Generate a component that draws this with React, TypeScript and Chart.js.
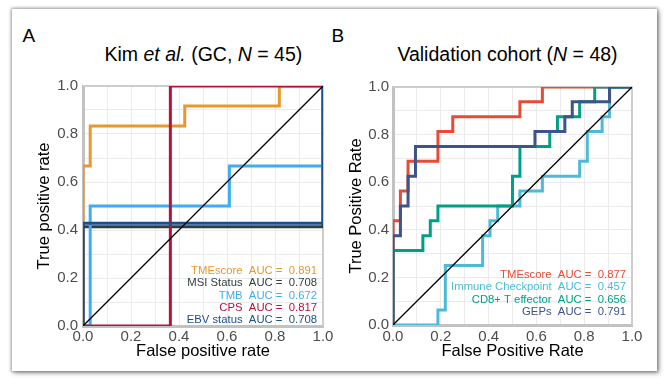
import React, { useEffect, useRef } from 'react';
import { Chart, registerables } from 'chart.js';

Chart.register(...registerables);

const FONT = "'Liberation Sans', Arial, Helvetica, sans-serif";

// ---------- Panel A: Kim et al. (GC, N = 45) ----------
const A_TME_FPR = [0, 0, 0.03, 0.03, 0.424, 0.424, 0.818, 0.818, 1];
const A_TME_TPR = [0, 0.667, 0.667, 0.833, 0.833, 0.917, 0.917, 1, 1];
const A_MSI_FPR = [0, 0, 1, 1];
const A_MSI_TPR = [0, 0.414, 0.414, 1];
const A_TMB_FPR = [0, 0.03, 0.03, 0.61, 0.61, 1, 1];
const A_TMB_TPR = [0, 0, 0.5, 0.5, 0.667, 0.667, 1];
const A_CPS_FPR = [0, 0.364, 0.364, 1];
const A_CPS_TPR = [0, 0, 1, 1];
const A_EBV_FPR = [0, 0, 1, 1];
const A_EBV_TPR = [0, 0.428, 0.428, 1];

const A_LABELS = ['TMEscore', 'MSI Status', 'TMB', 'CPS', 'EBV status'];
const A_AUC = ['0.891', '0.708', '0.672', '0.817', '0.708'];
const A_COLORS = ['#E8992C', '#2E3F3F', '#3DAEF2', '#B5123C', '#1B4F8A'];

// ---------- Panel B: Validation cohort (N = 48) ----------
const B_TME_FPR = [0, 0, 0.031, 0.031, 0.063, 0.063, 0.188, 0.188, 0.25, 0.25, 0.531, 0.531, 0.625, 0.625, 1];
const B_TME_TPR = [0, 0.438, 0.438, 0.563, 0.563, 0.688, 0.688, 0.813, 0.813, 0.875, 0.875, 0.938, 0.938, 1, 1];
const B_IC_FPR = [0, 0.188, 0.188, 0.219, 0.219, 0.375, 0.375, 0.406, 0.406, 0.438, 0.438, 0.531, 0.531, 0.625, 0.625, 0.781, 0.781, 0.813, 0.813, 0.875, 0.875, 0.906, 0.906, 1];
const B_IC_TPR = [0, 0, 0.063, 0.063, 0.25, 0.25, 0.375, 0.375, 0.438, 0.438, 0.5, 0.5, 0.563, 0.563, 0.625, 0.625, 0.688, 0.688, 0.813, 0.813, 0.875, 0.875, 1, 1];
const B_CD8_FPR = [0, 0, 0.125, 0.125, 0.156, 0.156, 0.188, 0.188, 0.5, 0.5, 0.531, 0.531, 0.656, 0.656, 0.688, 0.688, 0.781, 0.781, 0.844, 0.844, 1];
const B_CD8_TPR = [0, 0.313, 0.313, 0.375, 0.375, 0.438, 0.438, 0.5, 0.5, 0.625, 0.625, 0.75, 0.75, 0.813, 0.813, 0.875, 0.875, 0.938, 0.938, 1, 1];
const B_GEP_FPR = [0, 0, 0.031, 0.031, 0.063, 0.063, 0.094, 0.094, 0.594, 0.594, 0.719, 0.719, 0.75, 0.75, 0.906, 0.906, 1];
const B_GEP_TPR = [0, 0.375, 0.375, 0.5, 0.5, 0.625, 0.625, 0.75, 0.75, 0.813, 0.813, 0.875, 0.875, 0.938, 0.938, 1, 1];

const B_LABELS = ['TMEscore', 'Immune Checkpoint', 'CD8+ T effector', 'GEPs'];
const B_AUC = ['0.877', '0.457', '0.656', '0.791'];
const B_COLORS = ['#E64B35', '#4DBBD5', '#00A087', '#3C5488'];

const DIAG_X = [0, 1];
const DIAG_Y = [0, 1];

type PanelSpec = {
  fprs: number[][];
  tprs: number[][];
  labels: string[];
  aucs: string[];
  colors: string[];
  xTitle: string;
  yTitle: string;
  yAxisWidth: number;
  xAxisHeight: number;
  padTop: number;
  padRight: number;
  yTitlePad: number;
  xTitlePad: number;
  xTickPad: number;
  yTickPad: number;
  legendBottom: number;
  legendRight: number;
};

const toPts = (xs: number[], ys: number[]) => xs.map((x, i) => ({ x, y: ys[i] }));

function buildConfig(p: PanelSpec): any {
  const n = p.labels.length;
  const datasets: any[] = [
    {
      data: toPts(DIAG_X, DIAG_Y),
      borderColor: '#000000',
      borderWidth: 1.3,
      showLine: true,
      pointRadius: 0,
      order: 0,
    },
  ];
  for (let i = 0; i < n; i++) {
    datasets.push({
      label: p.labels[i],
      data: toPts(p.fprs[i], p.tprs[i]),
      borderColor: p.colors[i],
      borderWidth: 3,
      showLine: true,
      pointRadius: 0,
      tension: 0,
      order: n - i,
    });
  }
  const tickCb = (v: any) => (Math.round(Number(v) * 10) % 2 === 0 ? Number(v).toFixed(1) : '');
  const decor = {
    id: 'decor',
    beforeDatasetsDraw(chart: any) {
      const { ctx, chartArea } = chart;
      const { left, top, right, bottom } = chartArea;
      ctx.save();
      ctx.strokeStyle = '#CDCDCD';
      ctx.lineWidth = 2;
      ctx.beginPath();
      ctx.moveTo(left, top);
      ctx.lineTo(right, top);
      ctx.lineTo(right, bottom);
      ctx.stroke();
      ctx.restore();
    },
    afterDatasetsDraw(chart: any) {
      const { ctx, chartArea } = chart;
      ctx.save();
      ctx.font = `11.3px ${FONT}`;
      ctx.textAlign = 'right';
      ctx.textBaseline = 'middle';
      for (let i = 0; i < n; i++) {
        ctx.fillStyle = p.colors[i];
        const y = chartArea.bottom - p.legendBottom - 12.25 * (n - 1 - i);
        ctx.fillText(`${p.labels[i]}  AUC =  ${p.aucs[i]}`, chartArea.right - p.legendRight, y);
      }
      ctx.restore();
    },
  };
  return {
    type: 'scatter',
    data: { datasets },
    options: {
      animation: false,
      responsive: false,
      events: [],
      layout: { padding: { top: p.padTop, right: p.padRight, left: 0, bottom: 0 } },
      plugins: { legend: { display: false }, tooltip: { enabled: false }, title: { display: false } },
      scales: {
        x: {
          type: 'linear',
          min: 0,
          max: 1,
          afterFit: (s: any) => {
            s.height = p.xAxisHeight;
          },
          grid: { color: '#EBEBEB', lineWidth: 1, drawTicks: false },
          border: { display: true, color: '#C2C2C2', width: 3 },
          ticks: {
            stepSize: 0.1,
            autoSkip: false,
            maxRotation: 0,
            padding: p.xTickPad,
            color: '#4D4D4D',
            font: { size: 15, family: FONT },
            callback: tickCb,
          },
          title: {
            display: true,
            text: p.xTitle,
            color: '#000000',
            font: { size: 16.5, family: FONT },
            padding: { top: 0, bottom: p.xTitlePad },
          },
        },
        y: {
          type: 'linear',
          min: 0,
          max: 1,
          afterFit: (s: any) => {
            s.width = p.yAxisWidth;
          },
          grid: { color: '#EBEBEB', lineWidth: 1, drawTicks: false },
          border: { display: true, color: '#C2C2C2', width: 3 },
          ticks: {
            stepSize: 0.1,
            autoSkip: false,
            padding: p.yTickPad,
            color: '#4D4D4D',
            font: { size: 15, family: FONT },
            callback: tickCb,
          },
          title: {
            display: true,
            text: p.yTitle,
            color: '#000000',
            font: { size: 16.5, family: FONT },
            padding: { top: p.yTitlePad, bottom: 0 },
          },
        },
      },
    },
    plugins: [decor],
  };
}

const PANEL_A: PanelSpec = {
  fprs: [A_TME_FPR, A_MSI_FPR, A_TMB_FPR, A_CPS_FPR, A_EBV_FPR],
  tprs: [A_TME_TPR, A_MSI_TPR, A_TMB_TPR, A_CPS_TPR, A_EBV_TPR],
  labels: A_LABELS,
  aucs: A_AUC,
  colors: A_COLORS,
  xTitle: 'False positive rate',
  yTitle: 'True positive rate',
  yAxisWidth: 68,
  xAxisHeight: 42,
  padTop: 16,
  padRight: 14,
  yTitlePad: 20,
  xTitlePad: 6.6,
  xTickPad: 2,
  yTickPad: 5,
  legendBottom: 6,
  legendRight: 6,
};

const PANEL_B: PanelSpec = {
  fprs: [B_TME_FPR, B_IC_FPR, B_CD8_FPR, B_GEP_FPR],
  tprs: [B_TME_TPR, B_IC_TPR, B_CD8_TPR, B_GEP_TPR],
  labels: B_LABELS,
  aucs: B_AUC,
  colors: B_COLORS,
  xTitle: 'False Positive Rate',
  yTitle: 'True Positive Rate',
  yAxisWidth: 53,
  xAxisHeight: 43,
  padTop: 17,
  padRight: 14,
  yTitlePad: 6.6,
  xTitlePad: 6.6,
  xTickPad: 3,
  yTickPad: 4,
  legendBottom: 13.3,
  legendRight: 6,
};

function Panel({ spec, left, top, width, height }: { spec: PanelSpec; left: number; top: number; width: number; height: number }) {
  const ref = useRef<HTMLCanvasElement | null>(null);
  useEffect(() => {
    if (!ref.current) return;
    const chart = new Chart(ref.current, buildConfig(spec));
    return () => chart.destroy();
  }, [spec]);
  return (
    <canvas
      ref={ref}
      width={width}
      height={height}
      style={{ position: 'absolute', left, top, width, height }}
    />
  );
}

const textBase: React.CSSProperties = {
  position: 'absolute',
  fontFamily: FONT,
  color: '#000',
  lineHeight: 1,
  whiteSpace: 'nowrap',
};

export default function App() {
  return (
    <div style={{ position: 'absolute', left: 0, top: 0, width: 669, height: 382, background: '#fff', overflow: 'hidden' }}>
      <div
        style={{
          position: 'absolute',
          left: 12,
          top: 9,
          width: 645,
          height: 362,
          background: '#fff',
          boxShadow: '0 0 3px 1px rgba(0,0,0,0.35), 2px 2px 5px rgba(0,0,0,0.35)',
        }}
      />
      <div style={{ ...textBase, left: 22.5, top: 25.6, fontSize: 19 }}>A</div>
      <div style={{ ...textBase, left: 331.5, top: 25.6, fontSize: 19 }}>B</div>
      <div style={{ ...textBase, left: 203.4 - 150, width: 300, textAlign: 'center', top: 45.2, fontSize: 19.5 }}>
        Kim <i>et al.</i> (GC, <i>N</i> = 45)
      </div>
      <div style={{ ...textBase, left: 507.5 - 150, width: 300, textAlign: 'center', top: 45.2, fontSize: 19.5 }}>
        Validation cohort (<i>N</i> = 48)
      </div>
      <Panel spec={PANEL_A} left={15} top={70} width={322} height={298} />
      <Panel spec={PANEL_B} left={340} top={70} width={306} height={298} />
    </div>
  );
}
